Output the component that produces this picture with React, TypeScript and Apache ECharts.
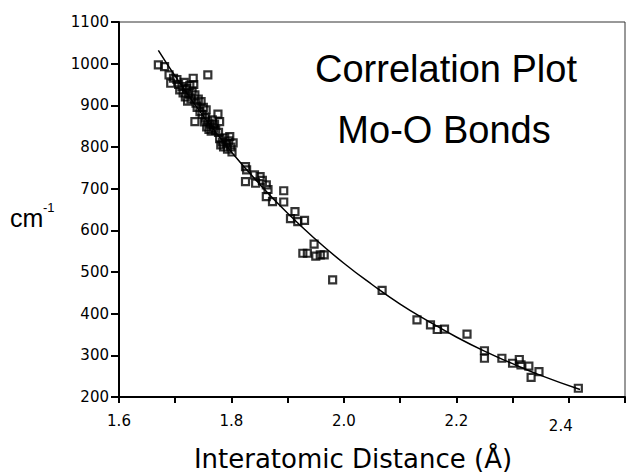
import React, { useEffect, useRef } from "react";
import * as echarts from "echarts";

// Measured points: interatomic distance (Å) and stretching frequency (cm-1)
const pointDistance: number[] = [
  1.670, 1.681, 1.689, 1.692, 1.697, 1.703, 1.706, 1.708, 1.712, 1.714,
  1.716, 1.718, 1.720, 1.722, 1.724, 1.726, 1.728, 1.730, 1.732, 1.733,
  1.735, 1.735, 1.737, 1.739, 1.741, 1.744, 1.746, 1.748, 1.750, 1.752,
  1.754, 1.755, 1.756, 1.758, 1.758, 1.760, 1.762, 1.764, 1.766, 1.768,
  1.770, 1.772, 1.776, 1.779, 1.777, 1.779, 1.781, 1.784, 1.786, 1.788,
  1.791, 1.793, 1.795, 1.797, 1.799, 1.801, 1.803,
  1.825, 1.827, 1.825, 1.841, 1.851, 1.843, 1.855, 1.862, 1.865, 1.862,
  1.873, 1.893, 1.893, 1.905, 1.913, 1.918, 1.930,
  1.927, 1.935, 1.947, 1.950, 1.958, 1.965, 1.980,
  2.068, 2.130, 2.154, 2.166, 2.179, 2.219, 2.250, 2.250, 2.281, 2.300,
  2.312, 2.315, 2.329, 2.333, 2.347, 2.417,
];
const pointFrequency: number[] = [
  997, 993, 973, 953, 965, 962, 950, 937, 945, 930,
  955, 920, 940, 910, 928, 948, 915, 935, 965, 950,
  925, 861, 905, 895, 915, 885, 909, 878, 895, 860,
  870, 889, 848, 973, 862, 842, 855, 838, 865, 845,
  855, 840, 879, 861, 835, 820, 805, 812, 800, 822,
  808, 795, 815, 825, 800, 788, 810,
  753, 745, 717, 733, 729, 713, 720, 709, 698, 681,
  669, 695, 668, 628, 645, 621, 624,
  545, 545, 567, 538, 541, 541, 481,
  456, 385, 373, 362, 363, 351, 311, 293, 293, 281,
  290, 277, 274, 247, 261, 221,
];

// Correlation curve
const curveDistance: number[] = [
  1.67, 1.70, 1.75, 1.80, 1.85, 1.90, 1.95, 2.00, 2.05, 2.10,
  2.15, 2.20, 2.25, 2.30, 2.35, 2.42,
];
const curveFrequency: number[] = [
  1032, 970, 874, 788, 711, 641, 578, 521, 470, 423,
  382, 344, 310, 280, 252, 218,
];

const xTickLabels: string[] = ["1.6", "1.8", "2.0", "2.2", "2.4"];
const yTickLabels: string[] = ["200", "300", "400", "500", "600", "700", "800", "900", "1000", "1100"];

const titleLine1 = "Correlation Plot";
const titleLine2 = "Mo-O Bonds";
const xAxisTitle = "Interatomic Distance (Å)";

export default function App() {
  const ref = useRef<HTMLDivElement>(null);
  useEffect(() => {
    if (!ref.current) return;
    const chart = echarts.init(ref.current, null, { renderer: "svg" });
    const scatterData = pointDistance.map((d, i) => [d, pointFrequency[i]]);
    const curveData = curveDistance.map((d, i) => [d, curveFrequency[i]]);
    const axisFont = "DejaVu Sans";
    chart.setOption({
      animation: false,
      backgroundColor: "#ffffff",
      grid: {
        left: 119,
        top: 22,
        right: 1,
        bottom: 79,
        show: true,
        borderColor: "#333",
        borderWidth: 1,
        containLabel: false,
      },
      xAxis: {
        type: "value",
        min: 1.6,
        max: 2.5,
        interval: 0.1,
        splitLine: { show: false },
        axisLine: { lineStyle: { color: "#000", width: 2 } },
        axisTick: { show: true, inside: false, length: 6, lineStyle: { color: "#000", width: 2 } },
        axisLabel: {
          color: "#000",
          fontFamily: axisFont,
          fontSize: 15,
          margin: 16,
          showMaxLabel: true,
          formatter: (v: number) => {
            const s = v.toFixed(1);
            if (!xTickLabels.includes(s)) return "";
            if (s === "2.4") return "{d|" + s + "}";
            return s;
          },
          rich: {
            d: {
              fontFamily: axisFont,
              fontSize: 15,
              color: "#000",
              padding: [5, 16, 0, 0],
            },
          },
        },
      },
      yAxis: {
        type: "value",
        min: 200,
        max: 1100,
        interval: 100,
        splitLine: { show: false },
        axisLine: { lineStyle: { color: "#000", width: 2 } },
        axisTick: { show: true, inside: false, length: 8, lineStyle: { color: "#000", width: 2 } },
        axisLabel: {
          color: "#000",
          fontFamily: axisFont,
          fontSize: 15,
          margin: 10,
          formatter: (v: number) => {
            const s = String(Math.round(v));
            return yTickLabels.includes(s) ? s : "";
          },
        },
      },
      graphic: [
        {
          type: "text",
          x: 446,
          y: 69,
          style: {
            text: titleLine1,
            fontFamily: "Liberation Sans",
            fontSize: 38,
            fill: "#000",
            textAlign: "center",
            textVerticalAlign: "middle",
          },
        },
        {
          type: "text",
          x: 444,
          y: 130,
          style: {
            text: titleLine2,
            fontFamily: "Liberation Sans",
            fontSize: 38,
            fill: "#000",
            textAlign: "center",
            textVerticalAlign: "middle",
          },
        },
        {
          type: "text",
          x: 10,
          y: 230,
          style: {
            text: "cm",
            fontFamily: "Liberation Sans",
            fontSize: 25,
            fill: "#000",
            textAlign: "left",
            textVerticalAlign: "bottom",
          },
        },
        {
          type: "text",
          x: 43,
          y: 214,
          style: {
            text: "-1",
            fontFamily: "Liberation Sans",
            fontSize: 13,
            fill: "#000",
            textAlign: "left",
            textVerticalAlign: "bottom",
          },
        },
        {
          type: "text",
          x: 353,
          y: 459,
          style: {
            text: xAxisTitle,
            fontFamily: axisFont,
            fontSize: 26,
            fill: "#000",
            textAlign: "center",
            textVerticalAlign: "middle",
          },
        },
      ],
      series: [
        {
          type: "line",
          data: curveData,
          smooth: true,
          symbol: "none",
          lineStyle: { color: "#000", width: 1.5 },
          z: 2,
        },
        {
          type: "scatter",
          data: scatterData,
          symbol: "rect",
          symbolSize: 7,
          itemStyle: { color: "rgba(255,255,255,0)", borderColor: "#000", borderWidth: 2.2 },
          z: 3,
        },
      ],
    });
    return () => chart.dispose();
  }, []);
  return <div ref={ref} style={{ width: 628, height: 476, position: "absolute", left: 0, top: 0 }} />;
}
